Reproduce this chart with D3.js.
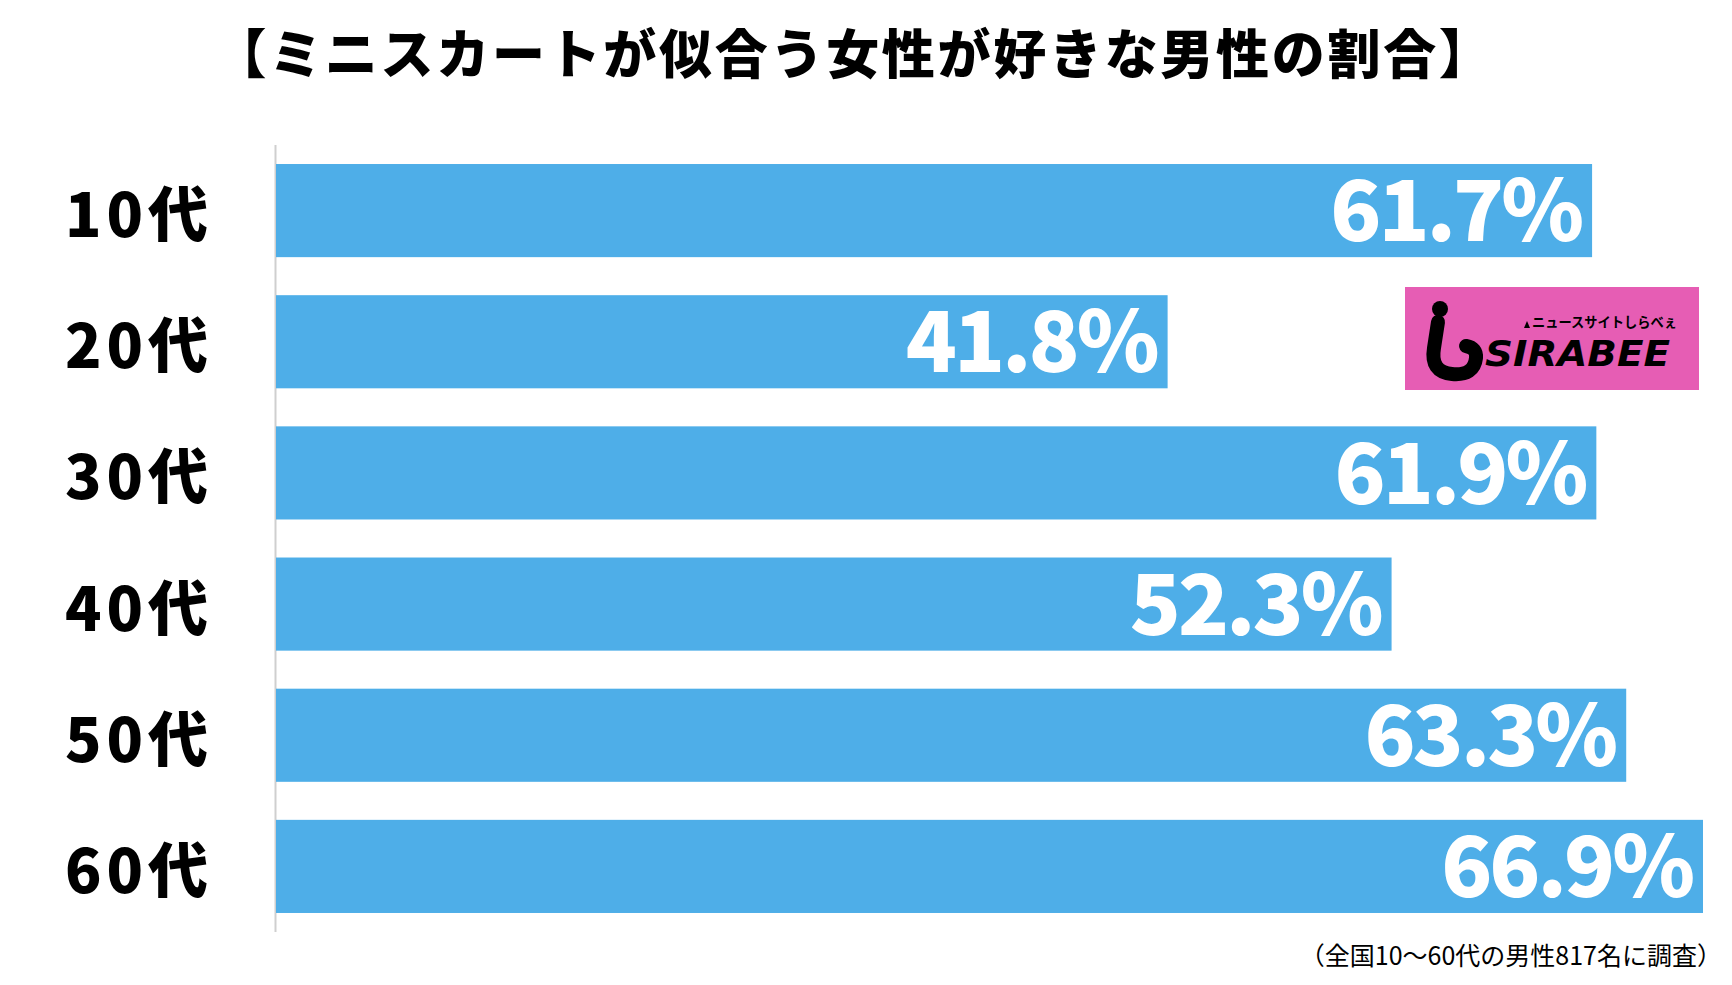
<!DOCTYPE html>
<html><head><meta charset="utf-8">
<script src="https://cdn.jsdelivr.net/npm/d3@7"></script>
<style>
html,body{margin:0;padding:0;background:#fff;}
svg{display:block;}
</style></head>
<body>
<svg id="chart" width="1732" height="985"></svg>
<script>
const title = "【ミニスカートが似合う女性が好きな男性の割合】";
const categories = ["10代","20代","30代","40代","50代","60代"];
const values = [61.7, 41.8, 61.9, 52.3, 63.3, 66.9];
const footnote = "（全国10〜60代の男性817名に調査）";

const svg = d3.select("#chart");
const W = 1732, H = 985;
const jp = "'Noto Sans CJK JP','Noto Sans',sans-serif";

const x = d3.scaleLinear().domain([0, 66.9]).range([276, 1703]);
const y = d3.scaleBand().domain(categories).range([145, 932]).paddingInner(0.29).paddingOuter(0.145);

svg.append("rect").attr("width", W).attr("height", H).attr("fill", "#fff");

// title
svg.append("text").attr("x", 854).attr("y", 51)
  .attr("text-anchor", "middle").attr("dominant-baseline", "central")
  .style("font-family", jp).style("font-weight", 900).style("font-size", "53px")
  .style("letter-spacing", "2.7px")
  .attr("fill", "#000").text(title);

// axis line
svg.append("line").attr("x1", 275.5).attr("x2", 275.5).attr("y1", 145).attr("y2", 932)
  .attr("stroke", "#cfcfcf").attr("stroke-width", 2);

// bars
svg.selectAll("rect.bar").data(values).join("rect").attr("class", "bar")
  .attr("x", x(0)).attr("y", (d, i) => y(categories[i]))
  .attr("width", d => x(d) - x(0)).attr("height", y.bandwidth())
  .attr("fill", "#4eaee8");

// category labels
svg.selectAll("text.cat").data(categories).join("text").attr("class", "cat")
  .attr("x", 213).attr("y", d => y(d) + y.bandwidth() / 2)
  .attr("text-anchor", "end").attr("dominant-baseline", "central")
  .style("font-family", jp).style("font-weight", 900).style("font-size", "60px")
  .style("letter-spacing", "5px")
  .attr("fill", "#000").text(d => d);

// value labels
const vfs = 84;
svg.selectAll("text.val").data(values).join("text").attr("class", "val")
  .attr("x", d => x(d) - 11)
  .attr("y", (d, i) => y(categories[i]) + y.bandwidth() / 2 + vfs * 0.365)
  .attr("text-anchor", "end")
  .style("font-family", jp).style("font-weight", 900).style("font-size", vfs + "px")
  .style("letter-spacing", "-3px")
  .attr("fill", "#fff").text(d => d.toFixed(1) + "%");

// footnote
svg.append("text").attr("x", 1722).attr("y", 954)
  .attr("text-anchor", "end").attr("dominant-baseline", "central")
  .style("font-family", jp).style("font-size", "25px").attr("fill", "#000")
  .text(footnote);

// logo
const g = svg.append("g");
g.append("rect").attr("x", 1405).attr("y", 287).attr("width", 294).attr("height", 103).attr("fill", "#e65db4");
g.append("circle").attr("cx", 1440).attr("cy", 309).attr("r", 8).attr("fill", "#000");
g.append("path").attr("d", "M1438,322 L1434,348 Q1430,372 1452,374 Q1474,376 1476,358 Q1477,348 1466,346")
  .attr("fill", "none").attr("stroke", "#000").attr("stroke-width", 14).attr("stroke-linecap", "round");
g.append("text").attr("x", 1485).attr("y", 366)
  .style("font-family", "'DejaVu Sans Condensed','DejaVu Sans',sans-serif").style("font-weight", 700)
  .style("font-style", "italic").style("font-size", "36px").attr("fill", "#000")
  .attr("textLength", 185).attr("lengthAdjust", "spacingAndGlyphs").text("SIRABEE");
g.append("text").attr("x", 1532).attr("y", 327)
  .style("font-family", jp).style("font-weight", 700).style("font-size", "14px").attr("fill", "#000")
  .attr("textLength", 145).attr("lengthAdjust", "spacingAndGlyphs").text("ニュースサイトしらべぇ");
g.append("path").attr("d", "M1524,328 L1527,321 L1530,328 Z").attr("fill", "#000");
</script>
</body></html>
